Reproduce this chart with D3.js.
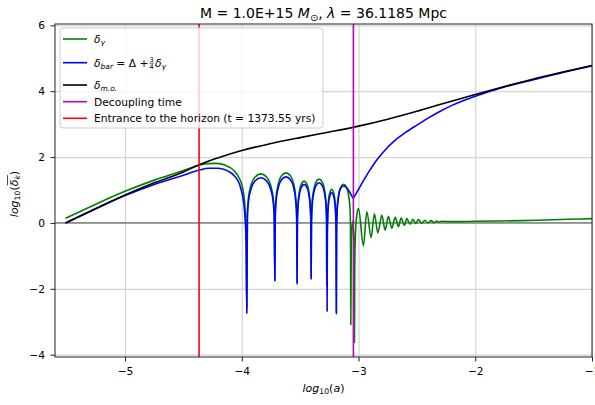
<!DOCTYPE html>
<html>
<head>
<meta charset="utf-8">
<script src="https://cdn.jsdelivr.net/npm/d3@7"></script>
<style>
    body { margin: 0; background: #fff; }
    text { font-family: "DejaVu Sans", sans-serif; fill: #000; }
</style>
</head>
<body>
<div id="chart"></div>
<script>

// ticks
var xTicks = [-5, -4, -3, -2, -1];
var yTicks = [-4, -2, 0, 2, 4, 6];

// vertical markers (log10 a)
var horizonX = -4.366;
var decouplingX = -3.044;

// delta m.o. (black)
var moPts = [[-5.51,0.00],[-5.25,0.44],[-5.00,0.85],[-4.75,1.22],[-4.50,1.55],[-4.37,1.76],[-4.20,1.98],
    [-4.00,2.20],[-3.75,2.41],[-3.50,2.59],[-3.25,2.76],[-3.00,2.94],[-2.75,3.15],[-2.50,3.39],[-2.25,3.65],
    [-2.00,3.90],[-1.75,4.14],[-1.50,4.37],[-1.25,4.58],[-1.00,4.78]];

// delta gamma (green)
var gammaPts = [[-5.51,0.14],[-5.25,0.57],[-5.00,0.96],[-4.75,1.30],[-4.50,1.59],[-4.37,1.75],[-4.30,1.80],
    [-4.22,1.81],[-4.14,1.75],[-4.07,1.60],[-4.02,1.35],[-3.99,1.02],[-3.972,0.45],[-3.962,-0.50],[-3.957,-2.60],
    [-3.952,0.29],[-3.943,0.76],[-3.921,1.15],[-3.885,1.40],[-3.837,1.49],[-3.789,1.40],[-3.753,1.15],[-3.731,0.76],[-3.722,0.29],[-3.717,-1.70],
    [-3.713,0.32],[-3.706,0.79],[-3.688,1.18],[-3.660,1.43],[-3.622,1.52],[-3.583,1.43],[-3.555,1.18],[-3.538,0.79],[-3.530,0.32],[-3.526,-1.80],
    [-3.524,0.07],[-3.519,0.54],[-3.508,0.93],[-3.490,1.18],[-3.466,1.27],[-3.442,1.18],[-3.424,0.93],[-3.413,0.54],[-3.408,0.07],[-3.406,-1.65],
    [-3.403,0.13],[-3.398,0.60],[-3.385,0.99],[-3.365,1.24],[-3.338,1.33],[-3.310,1.24],[-3.290,0.99],[-3.279,0.60],[-3.275,0.13],[-3.273,-1.90],
    [-3.267,-0.18],[-3.264,0.29],[-3.257,0.68],[-3.245,0.93],[-3.230,1.02],[-3.214,0.93],[-3.202,0.68],[-3.195,0.29],[-3.192,-0.18],[-3.190,-2.70],
    [-3.188,-0.03],[-3.183,0.44],[-3.171,0.83],[-3.153,1.08],[-3.128,1.17],[-3.103,1.08],[-3.085,0.83],[-3.073,0.44],[-3.069,-0.03],[-3.066,-3.09],
    [-3.062,-0.60],[-3.050,0.05],[-3.039,-0.60],[-3.035,-3.63],
    [-3.032,-1.20],[-3.026,-0.30],[-3.016,0.20],[-3.006,0.40],[-3.000,0.44],[-2.958,-0.69],[-2.929,0.34],[-2.892,-0.44],
    [-2.864,0.28],[-2.835,-0.30],[-2.800,0.23],[-2.772,-0.22],[-2.744,0.20],[-2.715,-0.16],[-2.686,0.17],[-2.658,-0.11],
    [-2.635,0.15],[-2.607,-0.07],[-2.586,0.13],[-2.558,-0.04],[-2.535,0.11],[-2.509,-0.02],[-2.487,0.10],[-2.458,-0.01],
    [-2.430,0.08],[-2.404,0.00],[-2.378,0.07],[-2.354,0.01],[-2.330,0.06],[-2.310,0.02],[-2.290,0.05],
    [-2.200,0.04],[-2.000,0.05],[-1.800,0.06],[-1.600,0.07],[-1.400,0.09],[-1.200,0.11],[-1.000,0.13]];

// delta bar (blue)
var barPts = [[-5.51,0.00],[-5.25,0.43],[-5.00,0.83],[-4.75,1.17],[-4.50,1.45],[-4.37,1.60],[-4.28,1.66],
    [-4.20,1.66],[-4.12,1.58],[-4.06,1.42],[-4.02,1.18],[-3.995,0.85],[-3.975,0.30],[-3.963,-0.60],[-3.957,-2.74],
    [-3.952,0.17],[-3.943,0.64],[-3.921,1.03],[-3.885,1.28],[-3.837,1.37],[-3.789,1.28],[-3.753,1.03],[-3.731,0.64],[-3.722,0.17],[-3.717,-1.76],
    [-3.713,0.20],[-3.706,0.67],[-3.688,1.06],[-3.660,1.31],[-3.622,1.40],[-3.583,1.31],[-3.555,1.06],[-3.538,0.67],[-3.530,0.20],[-3.526,-1.85],
    [-3.524,-0.03],[-3.519,0.44],[-3.508,0.83],[-3.490,1.08],[-3.466,1.17],[-3.442,1.08],[-3.424,0.83],[-3.413,0.44],[-3.408,-0.03],[-3.406,-1.70],
    [-3.403,0.02],[-3.398,0.49],[-3.385,0.88],[-3.365,1.13],[-3.338,1.22],[-3.310,1.13],[-3.290,0.88],[-3.277,0.49],[-3.272,0.02],[-3.269,-2.68],
    [-3.267,-0.28],[-3.264,0.19],[-3.257,0.58],[-3.245,0.83],[-3.230,0.92],[-3.214,0.83],[-3.202,0.58],[-3.195,0.19],[-3.192,-0.28],[-3.190,-2.76],
    [-3.188,-0.30],[-3.185,0.20],[-3.178,0.60],[-3.165,0.93],[-3.148,1.08],[-3.128,1.12],[-3.100,1.06],[-3.078,0.95],[-3.060,0.83],
    [-3.048,0.765],[-3.044,0.75],[-3.040,0.775],
    [-3.000,1.02],[-2.950,1.33],[-2.900,1.62],[-2.850,1.88],[-2.800,2.10],[-2.750,2.30],[-2.700,2.47],[-2.600,2.74],
    [-2.500,2.97],[-2.400,3.19],[-2.300,3.39],[-2.200,3.57],[-2.100,3.72],[-2.000,3.85],[-1.750,4.13],[-1.500,4.35],
    [-1.250,4.57],[-1.000,4.77]];

// text pieces
var titleParts = [{t: "M = 1.0E+15 "}, {t: "M", it: true}, {t: "\u2299", sub: true}, {t: ", "},
    {t: "\u03bb", it: true}, {t: " = 36.1185 Mpc"}];
var xLabelParts = [{t: "log", it: true}, {t: "10", sub: true}, {t: "("}, {t: "a", it: true}, {t: ")"}];
var legendItems = [
    {color: "#008000", parts: [{t: "\u03b4", it: true}, {t: "\u03b3", it: true, sub: true}]},
    {color: "#0000ff", parts: [{t: "\u03b4", it: true}, {t: "bar", it: true, sub: true}, {t: " = \u0394 + "}],
        frac: ["3", "4"], after: [{t: "\u03b4", it: true}, {t: "\u03b3", it: true, sub: true}]},
    {color: "#000000", parts: [{t: "\u03b4", it: true}, {t: "m.o.", it: true, sub: true}]},
    {color: "#bf00bf", parts: [{t: "Decoupling time"}]},
    {color: "#ff0000", parts: [{t: "Entrance to the horizon (t = 1373.55 yrs)"}]}
];
var legendRowY = [39, 62.7, 85, 101.7, 118.3];

// write math-ish text as tspans
function addParts(textSel, parts, fs) {
    var shift = 0;
    parts.forEach(function(p) {
        var target = p.sub ? fs * 0.22 : 0;
        var ts = textSel.append("tspan").text(p.t).attr("dy", target - shift);
        shift = target;
        if (p.it) ts.style("font-style", "italic");
        if (p.sub) ts.style("font-size", (fs * 0.7) + "px");
    });
}

var margin = {top: 24, right: 3, bottom: 48, left: 55};
var width = 595 - margin.left - margin.right,
    height = 405 - margin.top - margin.bottom;

var root = d3.select("#chart").append("svg")
    .attr("width", 595)
    .attr("height", 405);

var svg = root.append("g")
    .attr("transform", "translate(" + margin.left + "," + margin.top + ")");

var x = d3.scaleLinear().domain([-5.6, -1.0]).range([0, width]);
var y = d3.scaleLinear().domain([-4.07, 6.04]).range([height, 0]);

// grid
svg.append("g")
    .attr("class", "grid")
    .attr("transform", "translate(0," + height + ")")
    .call(d3.axisBottom(x).tickValues(xTicks).tickSize(-height).tickFormat(""));
svg.append("g")
    .attr("class", "grid")
    .call(d3.axisLeft(y).tickValues(yTicks).tickSize(-width).tickFormat(""));
svg.selectAll(".grid .domain").remove();
svg.selectAll(".grid line").style("stroke", "#d4d4d4").style("stroke-width", 1.2);

// zero line
svg.append("line")
    .attr("x1", 0).attr("x2", width)
    .attr("y1", y(0)).attr("y2", y(0))
    .style("stroke", "#6e6e6e")
    .style("stroke-width", 1.3);

svg.append("clipPath").attr("id", "clip")
    .append("rect").attr("width", width).attr("height", height);

var line = d3.line()
    .x(function(d) { return x(d[0]); })
    .y(function(d) { return y(d[1]); })
    .curve(d3.curveMonotoneX);

var plot = svg.append("g").attr("clip-path", "url(#clip)");

[[gammaPts, "#008000"], [barPts, "#0000ff"], [moPts, "#000000"]].forEach(function(s) {
    plot.append("path")
        .datum(s[0])
        .attr("d", line)
        .style("fill", "none")
        .style("stroke", s[1])
        .style("stroke-width", 1.6)
        .style("stroke-linejoin", "round");
});

[[decouplingX, "#bf00bf"], [horizonX, "#ff0000"]].forEach(function(v) {
    plot.append("line")
        .attr("x1", x(v[0])).attr("x2", x(v[0]))
        .attr("y1", 0).attr("y2", height)
        .style("stroke", v[1])
        .style("stroke-width", 1.6);
});

// axes
var xAxis = svg.append("g")
    .attr("transform", "translate(0," + height + ")")
    .call(d3.axisBottom(x).tickValues(xTicks).tickSize(4.5).tickPadding(5.5).tickFormat(d3.format("d")));
var yAxis = svg.append("g")
    .call(d3.axisLeft(y).tickValues(yTicks).tickSize(4.5).tickPadding(5.5).tickFormat(d3.format("d")));
[xAxis, yAxis].forEach(function(a) {
    a.select(".domain").remove();
    a.selectAll("line").style("stroke", "#222");
    a.selectAll("text").style("font-size", "10.7px").style("font-family", "DejaVu Sans").style("fill", "#000");
});

// frame
svg.append("rect")
    .attr("width", width).attr("height", height)
    .style("fill", "none")
    .style("stroke", "#222")
    .style("stroke-width", 1);

// legend
var legend = root.append("g");
legend.append("rect")
    .attr("x", 60).attr("y", 28)
    .attr("width", 263).attr("height", 100)
    .attr("rx", 3)
    .style("fill", "#fff").style("fill-opacity", 0.8)
    .style("stroke", "#cccccc");

legendItems.forEach(function(item, i) {
    var cy = legendRowY[i];
    legend.append("line")
        .attr("x1", 63).attr("x2", 87)
        .attr("y1", cy).attr("y2", cy)
        .style("stroke", item.color)
        .style("stroke-width", 1.6);
    var t = legend.append("text")
        .attr("x", 94).attr("y", cy + 3.8)
        .style("font-size", "10.7px");
    addParts(t, item.parts, 10.7);
    if (item.frac) {
        var fx = 94 + t.node().getComputedTextLength() + 1;
        legend.append("text").attr("x", fx + 2.3).attr("y", cy - 0.8)
            .attr("text-anchor", "middle").style("font-size", "6.5px").text(item.frac[0]);
        legend.append("line").attr("x1", fx).attr("x2", fx + 4.6)
            .attr("y1", cy + 0.5).attr("y2", cy + 0.5)
            .style("stroke", "#000").style("stroke-width", 0.6);
        legend.append("text").attr("x", fx + 2.3).attr("y", cy + 6.6)
            .attr("text-anchor", "middle").style("font-size", "6.5px").text(item.frac[1]);
        var t2 = legend.append("text")
            .attr("x", fx + 5.6).attr("y", cy + 3.8)
            .style("font-size", "10.7px");
        addParts(t2, item.after, 10.7);
    }
});

// title
var title = root.append("text")
    .attr("x", margin.left + width / 2).attr("y", 18)
    .attr("text-anchor", "middle")
    .style("font-size", "14px");
addParts(title, titleParts, 14);

// x label
var xl = root.append("text")
    .attr("x", margin.left + width / 2).attr("y", 392)
    .attr("text-anchor", "middle")
    .style("font-size", "11px");
addParts(xl, xLabelParts, 11);

// y label: log10( bar over delta_k )
var yg = root.append("g").attr("transform", "translate(18,194) rotate(-90)");
var yl = yg.append("text").attr("x", 0).attr("y", 0).style("font-size", "11px");
addParts(yl, [{t: "log", it: true}, {t: "10", sub: true}, {t: "("}, {t: "\u03b4", it: true}, {t: "k", it: true, sub: true}, {t: ")"}], 11);
var total = yl.node().getComputedTextLength();
yl.attr("x", -total / 2);
var n = yl.node();
var b0 = n.getSubStringLength(0, 6), b1 = n.getSubStringLength(0, 8);
yg.append("line")
    .attr("x1", -total / 2 + b0 + 1).attr("x2", -total / 2 + b1)
    .attr("y1", -10.5).attr("y2", -10.5)
    .style("stroke", "#000").style("stroke-width", 0.7);

</script>
</body>
</html>
